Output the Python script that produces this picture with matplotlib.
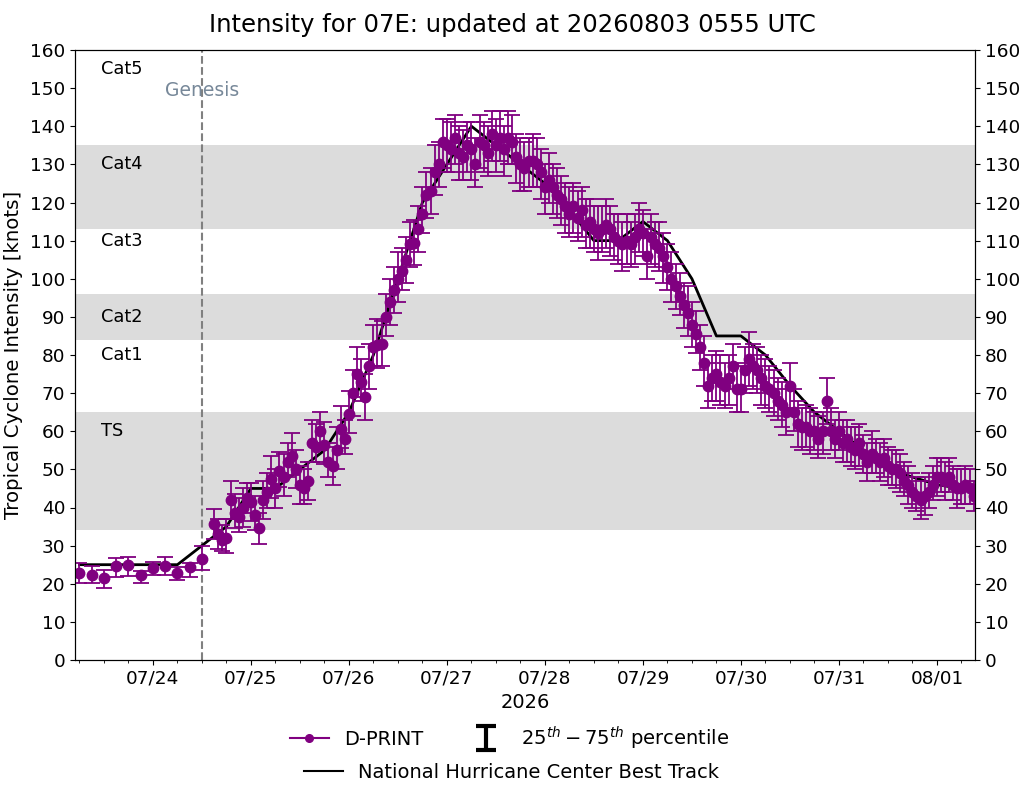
import matplotlib
matplotlib.use('Agg')
import matplotlib.pyplot as plt
import matplotlib.dates as mdates
from matplotlib.lines import Line2D
from matplotlib.path import Path
import numpy as np
import pandas as pd

# ---------------- data ----------------
title = "Intensity for 07E: updated at 20260803 0555 UTC"

# sparse D-PRINT estimates (3-hourly) before genesis
early_start = "2026-07-23 06:00"
early_vals = [22.7, 22.4, 21.5, 24.6, 24.9, 22.2, 24.1, 24.7, 22.8, 24.5, 26.6]
early_lo = [2.6, 2.1, 2.6, 2.9, 2.9, 2.0, 1.9, 2.5, 1.8, 2.8, 2.9]
early_hi = [2.7, 2.2, 2.1, 2.1, 2.0, 1.2, 1.6, 2.3, 1.5, 1.0, 3.3]

# dense D-PRINT estimates (hourly) after genesis
dense_start = "2026-07-24 15:00"
dense_vals = [
    35.7, 33, 31.5, 32, 42, 38.5, 37.5, 40, 42.5,
    41.5, 38, 34.5, 42, 44, 47.5, 45, 49.5, 48, 52, 53.5, 50, 46, 45, 47, 57, 56, 60, 56.5, 52, 51, 55, 60.5, 58,
    64.5, 70, 75, 73, 69, 77, 82, 82.5, 83, 90, 94, 97, 100, 102, 105, 109, 109.5, 113, 117, 122, 123, 128, 130, 136,
    135, 134, 137, 133, 132, 135, 134, 130, 136, 135, 133, 138, 135, 137, 134, 137, 136, 132, 130, 129, 131, 131, 130, 128,
    124, 126, 124, 122, 121, 119, 117, 119, 116, 118, 114, 115, 113, 112, 113, 114, 113, 111, 110, 109, 110, 109, 111, 113,
    112, 106, 111, 109, 108, 106, 103, 100, 98, 95.5, 93, 91, 88, 85.5, 82, 78, 72, 74, 75, 73, 72, 74, 77, 71,
    71, 76, 79, 77, 76, 74, 72, 71, 70, 68, 67, 65, 72, 65, 62, 61, 61, 60, 60, 58, 60, 68, 60, 58,
    60, 57, 58, 56, 55, 57, 54, 52, 54, 53, 52, 53, 51, 50, 50, 49, 47, 46, 44, 43, 42, 43, 44, 46,
    48, 48, 47, 48, 46, 45, 45, 46, 45, 43,
]
dense_lo = [
    4, 4, 3, 4, 5, 4, 4, 5, 4,
    5, 4, 4, 5, 4, 5, 5, 4, 5, 4, 5, 5, 5, 4, 5, 5, 4, 5, 5, 4, 5, 5, 5, 4,
    5, 6, 6, 5, 6, 6, 5, 6, 6, 5, 6, 6, 6, 5, 6, 6, 6, 6, 5, 6, 6, 6, 6, 7,
    7, 6, 7, 7, 6, 7, 8, 6, 7, 7, 6, 7, 7, 6, 7, 7, 6, 7, 7, 6, 7, 7, 6, 7,
    7, 6, 7, 6, 7, 7, 6, 7, 6, 7, 6, 7, 6, 7, 6, 6, 7, 6, 6, 7, 6, 6, 7, 6,
    6, 6, 7, 6, 6, 7, 6, 6, 6, 5, 6, 6, 6, 5, 6, 6, 6, 6, 7, 6, 6, 7, 6, 6,
    6, 6, 7, 6, 6, 7, 6, 6, 6, 5, 6, 6, 6, 5, 6, 6, 5, 6, 5, 5, 6, 6, 5, 5,
    5, 5, 6, 5, 5, 6, 5, 5, 5, 4, 5, 5, 5, 4, 5, 5, 4, 5, 4, 4, 5, 5, 4, 4,
    5, 4, 5, 4, 4, 5, 4, 5, 4, 4,
]
dense_hi = [
    4, 4, 4, 5, 5, 5, 5, 5, 4,
    5, 5, 4, 5, 5, 6, 5, 5, 6, 5, 6, 5, 5, 5, 5, 6, 6, 5, 6, 5, 5, 6, 6, 5,
    6, 6, 7, 6, 6, 6, 6, 7, 6, 6, 6, 6, 7, 6, 6, 6, 6, 6, 7, 6, 6, 7, 6, 6,
    7, 7, 6, 7, 7, 6, 7, 7, 7, 6, 7, 6, 7, 7, 6, 7, 7, 6, 7, 7, 6, 7, 7, 6,
    6, 7, 6, 7, 6, 6, 7, 6, 7, 6, 7, 6, 6, 7, 6, 7, 6, 6, 7, 6, 7, 6, 6, 7,
    6, 7, 6, 6, 7, 6, 6, 7, 6, 6, 6, 7, 6, 6, 6, 7, 6, 6, 6, 7, 6, 6, 6, 7,
    6, 6, 7, 6, 6, 6, 7, 6, 6, 6, 6, 6, 6, 6, 6, 5, 6, 6, 5, 6, 5, 6, 6, 5,
    5, 6, 5, 5, 6, 5, 5, 5, 6, 5, 5, 5, 5, 5, 5, 5, 5, 5, 5, 5, 5, 5, 5, 5,
    5, 5, 5, 5, 5, 5, 5, 5, 5, 4,
]

# NHC best track (6-hourly)
bt_start = "2026-07-23 06:00"
bt_vals = [25, 25, 25,
           25, 25, 30, 35,
           45, 45, 50, 55,
           65, 80, 100, 120,
           130, 140, 135, 130,
           125, 118, 110, 110,
           115, 110, 100, 85,
           85, 80, 72, 65,
           60, 55, 50, 48,
           46, 45]

genesis_time = "2026-07-24 12:00"
cat_names = ["Cat5", "Cat4", "Cat3", "Cat2", "Cat1", "TS"]
cat_label_y = [155, 130, 110, 90, 80, 60]
bands = [(34, 65), (84, 96), (113, 135)]

# ---------------- figure ----------------
early_t = pd.date_range(early_start, periods=len(early_vals), freq="3h")
dense_t = pd.date_range(dense_start, periods=len(dense_vals), freq="1h")
bt_t = pd.date_range(bt_start, periods=len(bt_vals), freq="6h")

fig = plt.figure(figsize=(10.25, 7.85), dpi=100)
ax = fig.add_axes([75 / 1025, 125 / 785, 900 / 1025, 610 / 785])

for lo, hi in bands:
    ax.axhspan(lo, hi, color="#dcdcdc", zorder=0, lw=0)

purple = "#800080"
ax.plot(bt_t, bt_vals, color="black", lw=2, zorder=2)

eb_kw = dict(fmt="o", color=purple, ecolor=purple, markersize=7.5,
             capsize=6, elinewidth=1.3, capthick=1.3, zorder=3)
ax.errorbar(early_t, early_vals, yerr=[early_lo, early_hi], **eb_kw)
ax.errorbar(dense_t, dense_vals, yerr=[dense_lo, dense_hi], **eb_kw)

gt = pd.Timestamp(genesis_time)
ax.axvline(gt, color="grey", ls="--", lw=1.5, zorder=1)
ax.text(gt, 149.5, "Genesis", color="#778899", fontsize=13.5,
        ha="center", va="center", zorder=4)

for name, yv in zip(cat_names, cat_label_y):
    ax.text(0.029, yv, name, transform=ax.get_yaxis_transform(),
            fontsize=12.8, va="center", ha="left", zorder=4)

ax.set_ylim(0, 160)
ax.set_yticks(np.arange(0, 161, 10))
ax.set_xlim(pd.Timestamp("2026-07-23 04:55"), pd.Timestamp("2026-08-01 09:20"))
ax.xaxis.set_major_locator(mdates.DayLocator())
ax.xaxis.set_major_formatter(mdates.DateFormatter("%m/%d"))
ax.xaxis.set_minor_locator(mdates.HourLocator(byhour=[0, 6, 12, 18]))
ax.tick_params(axis="both", labelsize=13.3)
ax.set_ylabel("Tropical Cyclone Intensity [knots]", fontsize=14.2, labelpad=5)
ax.set_xlabel("2026", fontsize=14)

ax2 = ax.twinx()
ax2.set_ylim(0, 160)
ax2.set_yticks(np.arange(0, 161, 10))
ax2.tick_params(axis="y", labelsize=13.3)

fig.suptitle(title, fontsize=17.5, x=0.5, y=0.983, va="top")

# legends
ibar = Path([(-1, -1.2), (1, -1.2), (0, -1.2), (0, 1.2), (-1, 1.2), (1, 1.2)],
            [Path.MOVETO, Path.LINETO, Path.MOVETO, Path.LINETO, Path.MOVETO, Path.LINETO])
h_dp = Line2D([], [], color=purple, marker="o", markersize=5.5, lw=1.5)
h_pc = Line2D([], [], color="black", marker=ibar, markersize=17, mew=3, ls="none")
h_bt = Line2D([], [], color="black", lw=1.5)
fig.legend([h_dp, h_pc], ["D-PRINT", r"$25^{th}-75^{th}$ percentile"],
           ncol=2, loc="center", bbox_to_anchor=(0.497, 1 - 738 / 785),
           frameon=False, fontsize=14, columnspacing=2.2)
fig.legend([h_bt], ["National Hurricane Center Best Track"], loc="center",
           bbox_to_anchor=(0.499, 1 - 772 / 785), frameon=False, fontsize=14)

fig.savefig("out.png", dpi=100)
